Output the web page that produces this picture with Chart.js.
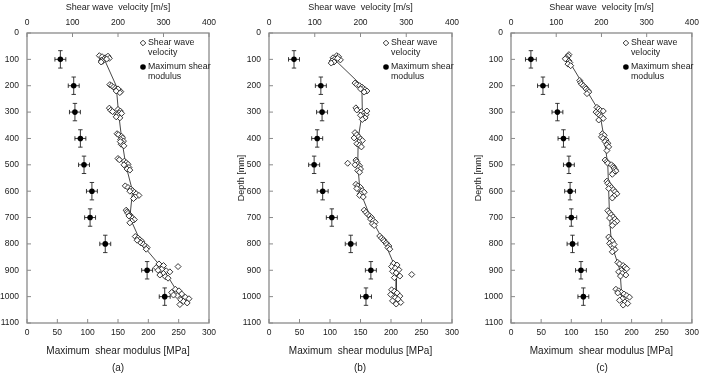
<!DOCTYPE html>
<html><head><meta charset="utf-8">
<script src="https://cdn.jsdelivr.net/npm/chart.js@4.4.1/dist/chart.umd.min.js"></script>
<style>
html,body{margin:0;padding:0;background:#fff;width:704px;height:376px;overflow:hidden;}
canvas{position:absolute;top:0;}
.lab{position:absolute;top:362px;font:10px "Liberation Sans",Arial,sans-serif;color:#222;width:40px;text-align:center;}
</style></head>
<body>
<canvas id="ca" width="235" height="376" style="left:0px"></canvas>
<canvas id="cb" width="235" height="376" style="left:235px"></canvas>
<canvas id="cc" width="234" height="376" style="left:470px"></canvas>
<div class="lab" style="left:98px">(a)</div>
<div class="lab" style="left:340px">(b)</div>
<div class="lab" style="left:582px">(c)</div>
<script>
// ---- data ----
const depthLevels = [100,200,300,400,500,600,700,800,900,1000];
const depthTicks = [0,100,200,300,400,500,600,700,800,900,1000,1100];

// panel (a)
const vsMeanA = [170,196,201,208,217,232,226,252,301,337];
const gmaxA = [55,77,79,88,94,107,104,129,198,227];
const gErrA = [9,9,9,9,9,9,9,9,9,9];
const dErrA = [33,33,33,33,33,33,33,33,33,33];
const vsPointsA = [
 [86,159],[90,165],[94,172],[88,178],[96,181],[100,168],[104,164],[107,166],[99,175],[110,163],
 [196,182],[200,186],[205,190],[210,194],[214,198],[218,202],[222,206],[226,204],[212,200],[220,196],
 [285,181],[293,184],[298,188],[290,200],[296,205],[303,203],[310,198],[316,201],[322,204],[318,196],[305,208],
 [382,198],[386,201],[392,208],[398,210],[404,206],[410,212],[416,209],[422,207],[428,213],[412,205],
 [476,200],[481,203],[486,214],[492,218],[498,222],[504,216],[510,224],[516,220],[520,226],[500,213],
 [580,216],[586,222],[592,228],[598,232],[604,236],[610,240],[616,246],[622,238],[628,234],[600,226],
 [672,218],[678,220],[684,222],[690,226],[696,228],[702,232],[708,236],[714,230],[720,226],[694,224],
 [772,238],[778,244],[784,248],[790,252],[796,250],[802,256],[808,260],[814,264],[820,262],[786,242],
 [876,290],[882,300],[886,332],[890,284],[896,296],[902,306],[906,314],[912,300],[918,292],[924,304],[930,310],[900,288],
 [972,326],[978,334],[984,318],[990,340],[996,330],[1002,348],[1008,356],[1012,338],[1018,344],[1024,352],[1030,336],[994,322]
];

// panel (b)
const vsMeanB = [143,203,204,195,194,199,222,254,279,278];
const gmaxB = [41,85,87,79,74,88,103,134,167,159];
const gErrB = [9,9,9,9,9,9,9,9,9,9];
const dErrB = [33,33,33,33,33,33,33,33,33,33];
const vsPointsB = [
 [86,148],[90,152],[94,140],[98,144],[102,156],[106,138],[110,142],[114,136],[96,150],
 [190,188],[196,192],[200,198],[205,203],[210,206],[215,210],[220,214],[212,200],[224,208],
 [284,190],[292,192],[298,202],[304,208],[310,212],[316,206],[322,210],[328,204],[296,214],[312,200],
 [378,188],[386,192],[394,196],[402,200],[408,204],[414,196],[420,192],[426,198],[432,202],[398,186],
 [482,190],[488,192],[494,172],[498,194],[504,198],[510,196],[516,200],[522,194],[528,198],[500,188],
 [574,190],[580,194],[586,200],[592,196],[598,204],[604,208],[610,200],[616,198],[622,206],[590,192],
 [672,208],[680,212],[688,216],[694,220],[700,224],[706,222],[712,228],[718,232],[724,226],[730,230],
 [770,242],[778,246],[784,250],[790,252],[796,256],[802,258],[808,262],[814,260],[820,264],
 [874,272],[880,280],[886,268],[892,276],[898,284],[904,270],[910,278],[916,312],[922,286],[928,274],
 [974,268],[980,274],[986,280],[992,266],[998,286],[1004,276],[1010,282],[1016,270],[1022,288],[1028,278]
];

// panel (c)
const vsMeanC = [126,161,196,206,214,216,218,222,241,245];
const gmaxC = [33,53,77,87,96,98,100,102,116,120];
const gErrC = [9,9,9,9,9,9,9,9,9,9];
const dErrC = [33,33,33,33,33,33,33,33,33,33];
const vsPointsC = [
 [82,128],[88,126],[94,122],[100,124],[106,128],[112,130],[118,126],[124,132],[98,120],
 [180,152],[188,154],[194,156],[200,160],[206,164],[212,166],[218,170],[224,172],[230,168],
 [282,190],[288,194],[294,198],[300,188],[306,192],[312,196],[318,200],[324,204],[330,194],[296,204],
 [382,202],[388,206],[394,200],[400,204],[406,210],[412,208],[418,214],[424,212],[432,216],[446,212],
 [482,208],[488,212],[494,214],[500,222],[506,226],[512,228],[518,230],[524,232],[530,226],[536,224],
 [562,212],[570,214],[578,218],[586,222],[594,226],[602,230],[610,234],[618,228],[626,224],[590,216],
 [674,214],[682,218],[690,222],[698,226],[706,230],[714,234],[722,228],[730,224],[702,218],
 [774,216],[782,220],[790,224],[798,218],[806,222],[814,226],[822,230],[830,224],[802,228],
 [870,236],[876,240],[882,248],[888,252],[894,256],[900,244],[906,238],[912,246],[918,254],[922,242],
 [972,232],[978,238],[984,244],[990,250],[996,256],[1002,262],[1008,246],[1014,240],[1020,252],[1026,258],[1032,248],[986,236]
];

const topTitle = 'Shear wave  velocity [m/s]';
const bottomTitle = 'Maximum  shear modulus [MPa]';
const yTitle = 'Depth [mm]';
const legendVs = ['Shear wave', 'velocity'];
const legendG = ['Maximum shear', 'modulus'];

// ---- drawing ----
const FONT = '"Liberation Sans", Arial, sans-serif';
const TXT = '#1a1a1a';
const AXC = '#8a8a8a';

const decor = {
  id: 'decor',
  beforeDatasetsDraw(chart, args, o) {
    const {ctx, chartArea: a, scales} = chart;
    ctx.save();
    ctx.strokeStyle = AXC; ctx.lineWidth = 1.3;
    ctx.strokeRect(a.left, a.top, a.width, a.height);
    ctx.lineWidth = 1;
    const seg = (x1,y1,x2,y2)=>{ctx.beginPath();ctx.moveTo(x1,y1);ctx.lineTo(x2,y2);ctx.stroke();};
    scales.y.ticks.forEach(t=>{const y=scales.y.getPixelForValue(t.value); seg(a.left,y,a.left+4,y);});
    scales.x.ticks.forEach(t=>{const x=scales.x.getPixelForValue(t.value); seg(x,a.bottom,x,a.bottom-4);});
    scales.x2.ticks.forEach(t=>{const x=scales.x2.getPixelForValue(t.value); seg(x,a.top,x,a.top+4);});
    // error bars
    ctx.strokeStyle = '#222'; ctx.lineWidth = 0.9;
    const cap = 2.2;
    o.g.forEach((g,i)=>{
      const d = o.d[i];
      const cx = scales.x.getPixelForValue(g), cy = scales.y.getPixelForValue(d);
      const x1 = scales.x.getPixelForValue(g - o.gErr[i]), x2 = scales.x.getPixelForValue(g + o.gErr[i]);
      const y1 = scales.y.getPixelForValue(d - o.dErr[i]), y2 = scales.y.getPixelForValue(d + o.dErr[i]);
      seg(x1,cy,x2,cy); seg(x1,cy-cap,x1,cy+cap); seg(x2,cy-cap,x2,cy+cap);
      seg(cx,y1,cx,y2); seg(cx-cap,y1,cx+cap,y1); seg(cx-cap,y2,cx+cap,y2);
    });
    ctx.restore();
  },
  afterDatasetsDraw(chart, args, o) {
    const {ctx, chartArea: a} = chart;
    ctx.save();
    const mx = a.right - 66;
    const dy = a.top + 10;
    ctx.beginPath(); ctx.moveTo(mx, dy-2.8); ctx.lineTo(mx+2.8, dy); ctx.lineTo(mx, dy+2.8); ctx.lineTo(mx-2.8, dy); ctx.closePath();
    ctx.fillStyle = '#fff'; ctx.fill(); ctx.strokeStyle = '#222'; ctx.lineWidth = 0.9; ctx.stroke();
    const cy = a.top + 34;
    ctx.beginPath(); ctx.arc(mx, cy, 2.8, 0, Math.PI*2); ctx.fillStyle = '#000'; ctx.fill();
    ctx.fillStyle = TXT; ctx.font = '8.8px ' + FONT; ctx.textBaseline = 'middle'; ctx.textAlign = 'left';
    ctx.fillText(legendVs[0], mx+5, dy); ctx.fillText(legendVs[1], mx+5, dy+10);
    ctx.fillText(legendG[0], mx+5, cy); ctx.fillText(legendG[1], mx+5, cy+10);
    ctx.restore();
  }
};

function makePanel(id, yWidth, padRight, showYTitle, yTitlePad, vsPts, vsMean, g, gErr, dErr) {
  const tickFont = {family: FONT, size: 8.5};
  const plain = v => String(v);
  new Chart(document.getElementById(id), {
    type: 'scatter',
    data: {
      datasets: [
        {data: vsMean.map((v,i)=>({x:v, y:depthLevels[i]})), xAxisID:'x2', yAxisID:'y', showLine:true,
         borderColor:'#333', borderWidth:0.9, pointRadius:0, order:3},
        {data: vsPts.map(p=>({x:p[1], y:p[0]})), xAxisID:'x2', yAxisID:'y', pointStyle:'rectRot',
         pointRadius:3, backgroundColor:'#fff', borderColor:'#222', borderWidth:0.9, order:2},
        {data: g.map((v,i)=>({x:v, y:depthLevels[i]})), xAxisID:'x', yAxisID:'y', pointStyle:'circle',
         pointRadius:2.8, backgroundColor:'#000', borderColor:'#000', borderWidth:0, order:1}
      ]
    },
    options: {
      responsive:false, animation:false, devicePixelRatio:1,
      layout:{padding:{left:0, right:padRight, top:0, bottom:0}},
      plugins:{legend:{display:false}, tooltip:{enabled:false},
        decor:{g:g, gErr:gErr, d:depthLevels, dErr:dErr}},
      scales:{
        x:{type:'linear', position:'bottom', min:0, max:300,
           ticks:{stepSize:50, font:tickFont, color:TXT, padding:5, maxRotation:0, callback:plain},
           grid:{display:false, drawTicks:false}, border:{display:false},
           title:{display:true, text:bottomTitle, font:{family:FONT, size:10}, color:TXT, padding:{top:0,bottom:19}},
           afterFit:s=>{s.height=53;}},
        x2:{type:'linear', position:'top', min:0, max:400,
           ticks:{stepSize:100, font:tickFont, color:TXT, padding:5, maxRotation:0, callback:plain},
           grid:{display:false, drawTicks:false}, border:{display:false},
           title:{display:true, text:topTitle, font:{family:FONT, size:9}, color:TXT, padding:{top:2,bottom:0}},
           afterFit:s=>{s.height=33;}},
        y:{type:'linear', position:'left', reverse:true, min:0, max:1100,
           afterBuildTicks:s=>{s.ticks = depthTicks.map(v=>({value:v}));},
           ticks:{font:tickFont, color:TXT, padding:8, callback:plain},
           grid:{display:false, drawTicks:false}, border:{display:false},
           title:{display:showYTitle, text:yTitle, font:{family:FONT, size:9}, color:TXT, padding:{top:yTitlePad,bottom:0}},
           afterFit:s=>{s.width=yWidth;}}
      }
    },
    plugins:[decor]
  });
}

makePanel('ca', 27, 26, false, 0, vsPointsA, vsMeanA, gmaxA, gErrA, dErrA);
makePanel('cb', 34, 18, true, 1, vsPointsB, vsMeanB, gmaxB, gErrB, dErrB);
makePanel('cc', 41, 11, true, 3, vsPointsC, vsMeanC, gmaxC, gErrC, dErrC);
</script>
</body></html>
